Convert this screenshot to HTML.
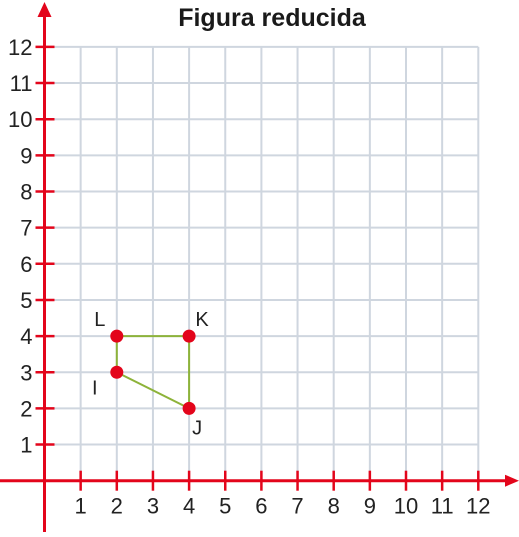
<!DOCTYPE html>
<html><head><meta charset="utf-8"><style>
html,body{margin:0;padding:0;background:#fff;}
svg text{font-family:"Liberation Sans",sans-serif;}
</style></head><body>
<svg id="c" width="519" height="532" viewBox="0 0 519 532" xmlns="http://www.w3.org/2000/svg">
<text x="272" y="26" text-anchor="middle" font-size="25" font-weight="bold" fill="#1a1a1a">Figura reducida</text>
<g id="grid"></g><g id="axes"></g><g id="shape"></g>
</svg>
<script>
const xTicks=[1,2,3,4,5,6,7,8,9,10,11,12];
const yTicks=[1,2,3,4,5,6,7,8,9,10,11,12];
const ptLabels=["I","J","K","L"];
const ptX=[2,4,4,2];
const ptY=[3,2,4,4];
const ox=44.5,oy=480.7,step=36.15;
const X=v=>ox+v*step, Y=v=>oy-v*step;
const NS="http://www.w3.org/2000/svg";
function mk(t,a,p){const e=document.createElementNS(NS,t);for(const k in a)e.setAttribute(k,a[k]);p.appendChild(e);return e;}
const g=document.getElementById('grid'),ax=document.getElementById('axes'),sh=document.getElementById('shape');
xTicks.forEach(v=>{const l=mk('line',{x1:X(v),x2:X(v),y1:Y(12),y2:oy,stroke:'#cfd6df','stroke-width':2},g);

});
yTicks.forEach(v=>{const l=mk('line',{x1:ox,x2:X(12),y1:Y(v),y2:Y(v),stroke:'#cfd6df','stroke-width':2},g);

});
const red='#e3051b';
let a=mk('line',{x1:0,x2:508,y1:oy,y2:oy,stroke:red,'stroke-width':3},ax);


a=mk('polygon',{points:`519,${oy} 505,${oy-6} 505,${oy+6}`,fill:red},ax);


a=mk('line',{x1:ox,x2:ox,y1:14,y2:532,stroke:red,'stroke-width':3},ax);


a=mk('polygon',{points:`${ox},2 ${ox-7},17 ${ox+7},17`,fill:red},ax);


xTicks.forEach(v=>{const t=mk('line',{x1:X(v),x2:X(v),y1:oy-10,y2:oy+10,stroke:red,'stroke-width':2.5},ax);


const s=mk('text',{x:X(v),y:oy+33,'text-anchor':'middle','font-size':22,fill:'#222'},ax);s.textContent=v;

});
yTicks.forEach(v=>{const t=mk('line',{x1:ox-9,x2:ox+10,y1:Y(v),y2:Y(v),stroke:red,'stroke-width':2.5},ax);


const s=mk('text',{x:ox-12,y:Y(v)+8,'text-anchor':'end','font-size':22,fill:'#222'},ax);s.textContent=v;

});
const poly=mk('polygon',{points:ptX.map((v,i)=>X(v)+','+Y(ptY[i])).join(' '),fill:'none',stroke:'#8db33a','stroke-width':2},sh);


const off={I:[-22,22],J:[8,26],K:[13,-10],L:[-17,-10]};
ptX.forEach((v,i)=>{const c=mk('circle',{cx:X(v),cy:Y(ptY[i]),r:6.5,fill:red},sh);


const o=off[ptLabels[i]]||[10,-10];
const t=mk('text',{x:X(v)+o[0],y:Y(ptY[i])+o[1],'text-anchor':'middle','font-size':20,fill:'#222'},sh);t.textContent=ptLabels[i];

});
</script>
</body></html>
